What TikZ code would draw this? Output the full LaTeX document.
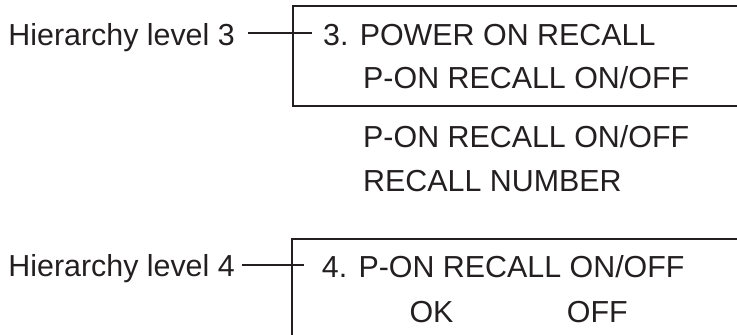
\documentclass[tikz,border=0pt]{standalone}
\usepackage{fontspec}
\setmainfont{Liberation Sans}
\definecolor{ink}{HTML}{231F20}
\begin{document}
\begin{tikzpicture}[x=1pt,y=-1pt,
  txt/.style={anchor=base west,inner sep=0pt,text=ink,font=\fontsize{30.4}{36}\selectfont},
  lbl/.style={anchor=base east,inner sep=0pt,text=ink,font=\fontsize{30.4}{36}\selectfont},
  frame/.style={draw=ink,line width=2.2pt},
  lead/.style={draw=ink,line width=1.9pt}]
\useasboundingbox (0,0) rectangle (737,335);

% level 3 display
\draw[frame] (745,6) -- (293.3,6) -- (293.3,106) -- (745,106);
\node[lbl] (l3) at (235,45) {Hierarchy level 3};
\coordinate (l3a) at (248,32.7);
\coordinate (l3b) at (311.7,32.7);
\draw[lead] (l3a) -- (l3b);
\node[txt] (t3a) at (323,45) {3. POWER ON RECALL};
\node[txt] (t3b) at (363,88.5) {P-ON RECALL ON/OFF};

% menu choices
\node[txt] (m1) at (363,147.7) {P-ON RECALL ON/OFF};
\node[txt] (m2) at (363,191.7) {RECALL NUMBER};

% level 4 display
\draw[frame] (745,239.3) -- (291.7,239.3) -- (291.7,345);
\node[lbl] (l4) at (235,276.5) {Hierarchy level 4};
\coordinate (l4a) at (241.7,265);
\coordinate (l4b) at (304.3,265);
\draw[lead] (l4a) -- (l4b);
\node[txt] (t4a) at (321.7,277.3) {4. P-ON RECALL ON/OFF};
\node[txt] (ok) at (409.3,322.3) {OK};
\node[txt] (off) at (566.7,322.3) {OFF};
\end{tikzpicture}
\end{document}
